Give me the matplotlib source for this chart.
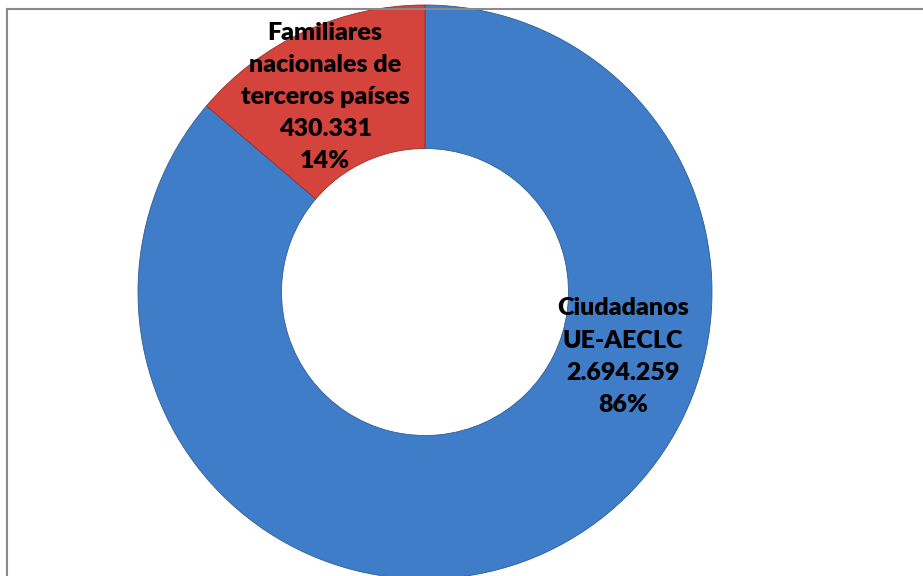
import matplotlib
matplotlib.use("Agg")
import matplotlib.pyplot as plt
from matplotlib.lines import Line2D

categories = ["Ciudadanos\nUE-AECLC", "Familiares\nnacionales de\nterceros países"]
values = [2694259, 430331]
value_labels = ["2.694.259", "430.331"]
pct_labels = ["86%", "14%"]
colors = ["#3F7DC8", "#D5433D"]

W, H = 923, 576
fig = plt.figure(figsize=(W / 100, H / 100), dpi=100)
fig.patch.set_facecolor("white")

cx, cy, R = 425, 292, 287
ax = fig.add_axes([(cx - R) / W, (H - cy - R) / H, 2 * R / W, 2 * R / H])

wedges, _ = ax.pie(values, colors=colors, startangle=90, counterclock=False,
                   radius=1.0, wedgeprops=dict(width=0.5, edgecolor="#2f5d95", linewidth=0.6))
wedges[1].set_edgecolor("#9a2f2b")
ax.set_xlim(-1, 1)
ax.set_ylim(-1, 1)
ax.axis("off")

font = ["Lato", "DejaVu Sans"]
label_pos = [(0.69, -0.225), (-0.348, 0.68)]
for (x, y), cat, v, p in zip(label_pos, categories, value_labels, pct_labels):
    ax.text(x, y, f"{cat}\n{v}\n{p}", ha="center", va="center", fontsize=18,
            fontweight="heavy", family=font, linespacing=1.56, color="black")

# chart frame
fx = 7 / W
fy = 1 - 9 / H
fig.add_artist(Line2D([fx, fx], [0, fy], transform=fig.transFigure, color="#8a8a8a", lw=1.5))
fig.add_artist(Line2D([fx, 1], [fy, fy], transform=fig.transFigure, color="#8a8a8a", lw=1.5))

fig.savefig("out.png", dpi=100)
